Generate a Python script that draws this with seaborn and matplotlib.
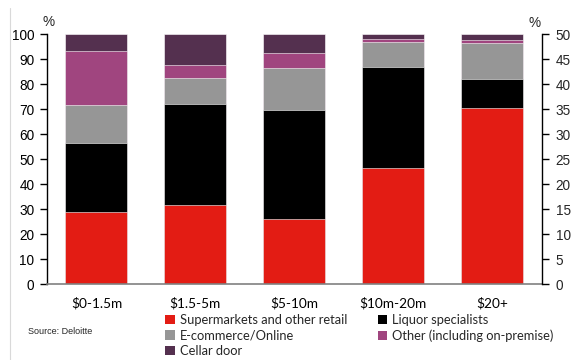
import matplotlib
matplotlib.use("Agg")
import matplotlib.pyplot as plt
from matplotlib.patches import Patch
import numpy as np
import pandas as pd
import seaborn as sns

# Revenue bands
categories = ["$0-1.5m", "$1.5-5m", "$5-10m", "$10m-20m", "$20+"]

# Share of sales by channel (%)
supermarkets = [28.8, 31.6, 26.0, 46.5, 70.4]
liquor = [27.8, 40.5, 43.8, 40.4, 11.7]
ecommerce = [15.0, 10.4, 16.6, 10.0, 14.6]
other = [21.7, 5.2, 6.2, 1.3, 0.9]
cellar = [6.7, 12.3, 7.4, 1.8, 2.4]

series_names = ["Supermarkets and other retail", "Liquor specialists",
                "E-commerce/Online", "Other (including on-premise)", "Cellar door"]
series_values = [supermarkets, liquor, ecommerce, other, cellar]
colors = ["#E31C14", "#000000", "#969696", "#A0457F", "#54304F"]

sns.set_theme(style="white")
plt.rcParams["font.family"] = ["Liberation Sans", "DejaVu Sans"]

fig = plt.figure(figsize=(5.71, 3.60), dpi=100)
ax = fig.add_axes([0.0823, 0.2111, 0.8664, 0.6936])

# stacked bars: draw cumulative totals from the top layer down
cum = np.cumsum(np.array(series_values), axis=0)
for i in range(len(series_names) - 1, -1, -1):
    df = pd.DataFrame({"cat": categories, "val": cum[i]})
    sns.barplot(data=df, x="cat", y="val", color=colors[i], width=0.627,
                saturation=1, edgecolor="white", linewidth=0.4, ax=ax)

ax.set_xlim(-0.5, 4.5)
ax.set_ylim(0, 100)
ax.set_yticks(range(0, 101, 10))
ax.set_xlabel("")
ax.set_ylabel("")
ax.set_xticks(range(5))
ax.set_xticklabels(categories, family=["Lato", "DejaVu Sans"], fontsize=9.8)
ax.tick_params(axis="x", length=0, pad=9, colors="#000000")
ax.set_xticks([0.5, 1.5, 2.5, 3.5], minor=True)
ax.tick_params(axis="x", which="minor", length=4, width=1, color="#808080", direction="out")
ax.tick_params(axis="y", length=5, width=1, color="#000000", direction="out",
               labelsize=9.8, pad=4, left=True)
for t in ax.get_yticklabels():
    t.set_color("#000000")

for s in ["top", "right"]:
    ax.spines[s].set_visible(False)
ax.spines["left"].set_color("#000000")
ax.spines["left"].set_linewidth(1)
ax.spines["bottom"].set_color("#808080")
ax.spines["bottom"].set_linewidth(1.2)

ax2 = ax.twinx()
ax2.set_ylim(0, 50)
ax2.set_yticks(range(0, 51, 5))
ax2.tick_params(axis="y", length=5, width=1, color="#000000", direction="out",
                labelsize=9.8, pad=5, right=True)
for s in ["top", "left", "bottom"]:
    ax2.spines[s].set_visible(False)
ax2.spines["right"].set_color("#000000")
ax2.spines["right"].set_linewidth(1)
ax2.grid(False)
ax.grid(False)

fig.text(49 / 571, 1 - 22 / 360, "%", fontsize=9.8, ha="center", va="center")
fig.text(535 / 571, 1 - 23 / 360, "%", fontsize=9.8, ha="center", va="center")

fig.text(28 / 571, 1 - 332 / 360, "Source: Deloitte", fontsize=6.5, ha="left", va="center")

# thin frame line at the left edge
fig.add_artist(plt.Line2D([10 / 571, 10 / 571], [0, 1 - 8 / 360],
                          transform=fig.transFigure, color="#D9D9D9", lw=0.8))

order = [0, 2, 4, 1, 3]
handles = [Patch(facecolor=colors[i], edgecolor="none") for i in order]
labels = [series_names[i] for i in order]
fig.legend(handles, labels, ncol=2, loc="upper left",
           bbox_to_anchor=(165 / 571, 1 - 314 / 360), frameon=False,
           prop={"family": ["Lato", "DejaVu Sans"], "size": 9.3},
           handlelength=0.75, handleheight=0.75, handletextpad=0.4,
           columnspacing=2.35, labelspacing=0.28, borderaxespad=0, borderpad=0)

fig.savefig("out.png", dpi=100)
